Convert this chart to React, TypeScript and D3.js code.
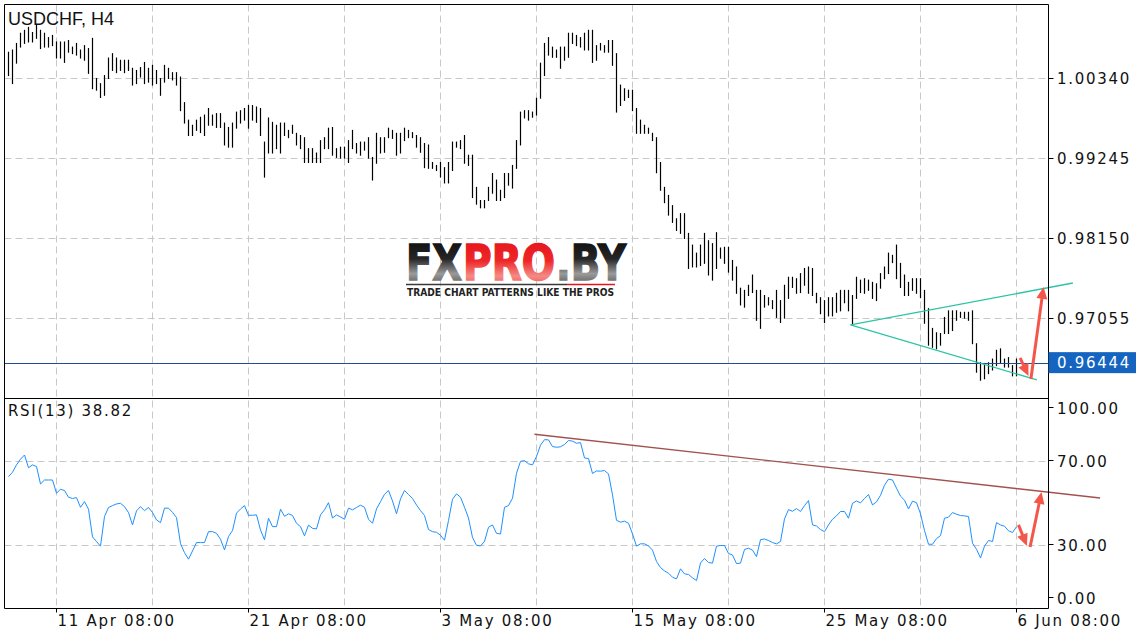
import * as d3 from "d3";

// H4 bars (index 0 = first bar on the left)
const HIGHS = [
  1.0070, 1.0073, 1.0082, 1.0096, 1.0100, 1.0104, 1.0097, 1.0107, 1.0100, 1.0096,
  1.0090, 1.0093, 1.0084, 1.0084, 1.0084, 1.0086, 1.0077, 1.0082, 1.0073, 1.0079,
  1.0075, 1.0089, 1.0034, 1.0027, 1.0038, 1.0062, 1.0068, 1.0062, 1.0059, 1.0059,
  1.0059, 1.0048, 1.0045, 1.0049, 1.0056, 1.0048, 1.0052, 1.0045, 1.0034, 1.0052,
  1.0048, 1.0042, 1.0042, 1.0036, 1.0001, 0.9977, 0.9970, 0.9977, 0.9981, 0.9984,
  0.9993, 0.9984, 0.9986, 0.9986, 0.9973, 0.9967, 0.9973, 0.9988, 0.9990, 0.9993,
  0.9997, 0.9997, 0.9995, 0.9993, 0.9947, 0.9980, 0.9974, 0.9970, 0.9973, 0.9973,
  0.9963, 0.9970, 0.9959, 0.9956, 0.9953, 0.9938, 0.9938, 0.9932, 0.9949, 0.9953,
  0.9966, 0.9967, 0.9938, 0.9940, 0.9940, 0.9949, 0.9963, 0.9945, 0.9947, 0.9947,
  0.9953, 0.9926, 0.9959, 0.9953, 0.9953, 0.9966, 0.9963, 0.9959, 0.9959, 0.9966,
  0.9963, 0.9960, 0.9956, 0.9953, 0.9945, 0.9943, 0.9919, 0.9915, 0.9919, 0.9912,
  0.9919, 0.9947, 0.9947, 0.9949, 0.9956, 0.9929, 0.9929, 0.9885, 0.9867, 0.9867,
  0.9885, 0.9904, 0.9895, 0.9881, 0.9904, 0.9904, 0.9915, 0.9949, 0.9988, 0.9990,
  0.9990, 0.9988, 1.0007, 1.0055, 1.0082, 1.0090, 1.0077, 1.0073, 1.0077, 1.0077,
  1.0096, 1.0096, 1.0093, 1.0090, 1.0096, 1.0100, 1.0100, 1.0079, 1.0082, 1.0079,
  1.0086, 1.0086, 1.0068, 1.0025, 1.0020, 1.0018, 1.0018, 0.9993, 0.9977, 0.9970,
  0.9966, 0.9959, 0.9953, 0.9919, 0.9885, 0.9874, 0.9860, 0.9842, 0.9849, 0.9849,
  0.9822, 0.9806, 0.9795, 0.9806, 0.9822, 0.9812, 0.9808, 0.9823, 0.9802, 0.9803,
  0.9803, 0.9785, 0.9776, 0.9747, 0.9744, 0.9751, 0.9765, 0.9744, 0.9744, 0.9737,
  0.9734, 0.9730, 0.9744, 0.9730, 0.9751, 0.9762, 0.9762, 0.9760, 0.9767, 0.9774,
  0.9776, 0.9774, 0.9740, 0.9734, 0.9730, 0.9734, 0.9734, 0.9740, 0.9744, 0.9744,
  0.9744, 0.9737, 0.9762, 0.9758, 0.9760, 0.9758, 0.9755, 0.9753, 0.9767, 0.9776,
  0.9795, 0.9792, 0.9806, 0.9781, 0.9765, 0.9755, 0.9760, 0.9760, 0.9760, 0.9744,
  0.9719, 0.9692, 0.9686, 0.9685, 0.9707, 0.9716, 0.9716, 0.9716, 0.9714, 0.9714,
  0.9714, 0.9716, 0.9671, 0.9645, 0.9644, 0.9645, 0.9650, 0.9662, 0.9664, 0.9650,
  0.9652, 0.9641, 0.9650,
];

const LOWS = [
  1.0038, 1.0027, 1.0055, 1.0077, 1.0082, 1.0084, 1.0084, 1.0089, 1.0075, 1.0077,
  1.0077, 1.0079, 1.0062, 1.0062, 1.0056, 1.0070, 1.0068, 1.0066, 1.0062, 1.0059,
  1.0041, 1.0020, 1.0018, 1.0008, 1.0011, 1.0034, 1.0045, 1.0042, 1.0045, 1.0042,
  1.0045, 1.0025, 1.0027, 1.0036, 1.0027, 1.0029, 1.0025, 1.0027, 1.0011, 1.0029,
  1.0034, 1.0032, 1.0025, 0.9990, 0.9973, 0.9956, 0.9956, 0.9963, 0.9960, 0.9956,
  0.9970, 0.9970, 0.9967, 0.9967, 0.9943, 0.9940, 0.9940, 0.9966, 0.9973, 0.9977,
  0.9966, 0.9977, 0.9974, 0.9956, 0.9899, 0.9932, 0.9932, 0.9938, 0.9932, 0.9956,
  0.9953, 0.9959, 0.9943, 0.9938, 0.9919, 0.9919, 0.9919, 0.9919, 0.9919, 0.9938,
  0.9938, 0.9929, 0.9926, 0.9925, 0.9925, 0.9919, 0.9938, 0.9932, 0.9929, 0.9936,
  0.9925, 0.9895, 0.9918, 0.9932, 0.9933, 0.9953, 0.9952, 0.9929, 0.9932, 0.9949,
  0.9953, 0.9953, 0.9940, 0.9933, 0.9912, 0.9911, 0.9911, 0.9908, 0.9899, 0.9891,
  0.9891, 0.9908, 0.9940, 0.9938, 0.9918, 0.9915, 0.9871, 0.9862, 0.9857, 0.9857,
  0.9867, 0.9877, 0.9867, 0.9867, 0.9871, 0.9888, 0.9884, 0.9911, 0.9943, 0.9980,
  0.9977, 0.9981, 0.9984, 1.0007, 1.0038, 1.0066, 1.0063, 1.0063, 1.0048, 1.0059,
  1.0063, 1.0082, 1.0079, 1.0077, 1.0073, 1.0073, 1.0056, 1.0059, 1.0073, 1.0070,
  1.0070, 1.0052, 0.9988, 0.9997, 1.0004, 1.0008, 0.9990, 0.9959, 0.9959, 0.9959,
  0.9959, 0.9949, 0.9905, 0.9881, 0.9864, 0.9847, 0.9837, 0.9826, 0.9822, 0.9815,
  0.9774, 0.9776, 0.9776, 0.9778, 0.9781, 0.9765, 0.9758, 0.9774, 0.9788, 0.9781,
  0.9769, 0.9758, 0.9740, 0.9724, 0.9721, 0.9737, 0.9741, 0.9703, 0.9692, 0.9721,
  0.9724, 0.9719, 0.9707, 0.9700, 0.9706, 0.9733, 0.9748, 0.9740, 0.9741, 0.9751,
  0.9740, 0.9737, 0.9727, 0.9712, 0.9700, 0.9709, 0.9709, 0.9714, 0.9716, 0.9727,
  0.9716, 0.9696, 0.9733, 0.9741, 0.9740, 0.9744, 0.9733, 0.9730, 0.9747, 0.9760,
  0.9767, 0.9782, 0.9760, 0.9748, 0.9737, 0.9737, 0.9744, 0.9740, 0.9734, 0.9699,
  0.9669, 0.9666, 0.9664, 0.9669, 0.9685, 0.9685, 0.9689, 0.9703, 0.9707, 0.9706,
  0.9703, 0.9671, 0.9632, 0.9621, 0.9623, 0.9630, 0.9635, 0.9641, 0.9644, 0.9639,
  0.9639, 0.9627, 0.9627,
];

const RSI = [
  62.7, 64.8, 68.3, 71.0, 73.0, 66.9, 68.3, 67.5, 59.2, 61.1,
  61.1, 61.1, 54.8, 56.7, 56.1, 52.9, 52.3, 52.7, 48.1, 50.8,
  47.2, 34.0, 31.8, 29.6, 43.7, 48.0, 48.9, 49.7, 50.0, 48.4,
  45.6, 39.7, 46.4, 48.4, 46.5, 48.0, 45.6, 42.1, 40.8, 47.7,
  47.7, 45.7, 43.2, 30.8, 26.5, 23.4, 27.3, 31.3, 31.3, 31.3,
  36.5, 36.5, 35.7, 32.9, 27.8, 34.2, 37.0, 45.3, 47.3, 48.9,
  44.3, 44.3, 44.5, 37.3, 32.6, 42.9, 38.9, 38.9, 47.2, 43.8,
  45.0, 44.2, 40.5, 38.9, 34.5, 39.6, 38.1, 37.8, 44.5, 46.9,
  50.3, 43.0, 44.5, 43.5, 42.4, 47.7, 46.9, 48.0, 49.1, 48.1,
  42.4, 40.5, 47.3, 50.8, 54.3, 56.1, 51.1, 45.0, 52.1, 56.1,
  54.2, 52.3, 49.2, 46.5, 44.2, 37.5, 36.5, 36.2, 34.8, 32.4,
  41.8, 51.9, 54.5, 52.9, 48.1, 43.0, 33.7, 30.0, 29.7, 31.9,
  38.6, 39.7, 35.7, 35.4, 48.1, 48.9, 52.4, 64.3, 70.0, 70.3,
  68.8, 68.3, 72.3, 77.7, 80.3, 80.2, 77.0, 76.7, 76.9, 78.0,
  79.9, 79.6, 78.6, 78.9, 71.6, 71.3, 64.2, 65.4, 65.3, 65.6,
  64.0, 54.0, 41.9, 41.0, 41.5, 40.5, 35.4, 29.6, 30.7, 30.7,
  29.7, 27.7, 22.3, 19.4, 17.8, 16.7, 14.8, 14.0, 18.8, 16.4,
  16.1, 14.5, 13.2, 21.6, 23.7, 21.8, 21.5, 29.6, 29.9, 29.9,
  26.1, 25.4, 21.3, 21.5, 28.0, 28.6, 27.7, 24.6, 32.7, 33.0,
  32.3, 31.3, 30.7, 31.8, 42.6, 47.0, 46.2, 47.5, 46.1, 48.9,
  51.3, 39.7, 39.2, 37.5, 36.5, 39.7, 42.4, 44.0, 46.1, 46.1,
  42.9, 50.0, 51.1, 50.2, 52.3, 54.2, 49.2, 50.7, 53.8, 58.6,
  61.5, 61.1, 57.2, 53.4, 51.5, 47.3, 51.0, 50.3, 45.0, 37.0,
  30.5, 30.5, 33.2, 34.6, 42.9, 43.4, 45.6, 44.8, 44.2, 44.0,
  43.7, 31.0, 28.1, 24.0, 29.6, 32.3, 31.8, 40.8, 39.7, 39.1,
  36.9, 36.1, 38.82,
];

const PRICE_TICKS = [1.0034, 0.99245, 0.9815, 0.97055];
const RSI_TICKS = [100, 70, 30, 0];
const DATE_LABELS = ["11 Apr 08:00", "21 Apr 08:00", "3 May 08:00", "15 May 08:00", "25 May 08:00", "6 Jun 08:00"];
const DATE_BARS = [12, 60, 108, 156, 204, 252];
const LAST_PRICE = 0.96444;
const LAST_RSI = 38.82;

// drawn objects, in bar index / value units
const TRIANGLE_UP = [{ bar: 210.5, v: 0.9696 }, { bar: 266.1, v: 0.97534 }];
const TRIANGLE_DOWN = [{ bar: 210.5, v: 0.9696 }, { bar: 257.1, v: 0.96207 }];
const RSI_TREND = [{ bar: 131.5, v: 82.9 }, { bar: 272.9, v: 52.5 }];
const PRICE_ARROWS = [
  [{ bar: 252.9, v: 0.96508 }, { bar: 255.0, v: 0.96262 }],
  [{ bar: 255.6, v: 0.9622 }, { bar: 258.75, v: 0.9748 }],
];
const RSI_ARROWS = [
  [{ bar: 252.5, v: 39.7 }, { bar: 254.6, v: 29.7 }],
  [{ bar: 255.4, v: 29.2 }, { bar: 258.25, v: 55.4 }],
];

// watermark pieces: text, gradient
const LOGO_PARTS = [
  { text: "FX", grad: "gDark", x: 406, w: 56 },
  { text: "PRO", grad: "gRed", x: 463, w: 92 },
  { text: ".BY", grad: "gDark", x: 556, w: 70 },
];

const W = 1136, H = 640;
const LEFT = 4.5, RIGHT = 1048.5, TOP = 4.5, SEP = 398.5, BOTTOM = 608.5;
const FONT = "DejaVu Sans";
const ARROW = "#f4574a";

function Arrow({ x1, y1, x2, y2 }: { x1: number; y1: number; x2: number; y2: number }) {
  const len = Math.hypot(x2 - x1, y2 - y1);
  const ux = (x2 - x1) / len, uy = (y2 - y1) / len;
  const hl = 12, hw = 5.5;
  const bx = x2 - ux * hl, by = y2 - uy * hl;
  const pts = [
    [x2, y2],
    [bx - uy * hw, by + ux * hw],
    [bx + uy * hw, by - ux * hw],
  ].map((p) => p.join(",")).join(" ");
  return (
    <g>
      <line x1={x1} y1={y1} x2={bx + ux * 2} y2={by + uy * 2} stroke={ARROW} strokeWidth={3} />
      <polygon points={pts} fill={ARROW} />
    </g>
  );
}

export default function App() {
  const x = d3.scaleLinear().domain([0, 252]).range([8.5, 1016.5]);
  const yP = d3.scaleLinear().domain([0.97055, 1.0034]).range([318, 78]);
  const yR = d3.scaleLinear().domain([0, 100]).range([608.3, 398.3]);

  const rsiLine = d3.line<number>().x((_, i) => x(i)).y((d) => yR(d));
  const gridBars = d3.range(12, 253, 24);
  const crisp = (v: number) => Math.round(v) + 0.5;
  const textStyle = { fontFamily: FONT, fontSize: 15, letterSpacing: 1.7 } as const;
  const rsiLabelY: Record<number, number> = { 100: 408, 70: yR(70), 30: yR(30), 0: 598 };
  const lastY = yP(LAST_PRICE);

  return (
    <svg width={W} height={H} style={{ position: "absolute", left: 0, top: 0, background: "#fff" }}>
      <defs>
        <linearGradient id="gDark" x1="0" y1="0" x2="0" y2="1">
          <stop offset="0" stopColor="#0a0a0a" />
          <stop offset="0.42" stopColor="#262626" />
          <stop offset="0.68" stopColor="#9a9a9a" />
          <stop offset="1" stopColor="#333" />
        </linearGradient>
        <linearGradient id="gRed" x1="0" y1="0" x2="0" y2="1">
          <stop offset="0" stopColor="#e3121b" />
          <stop offset="0.45" stopColor="#ee2626" />
          <stop offset="0.72" stopColor="#f58a86" />
          <stop offset="1" stopColor="#ea3a36" />
        </linearGradient>
      </defs>

      {/* grid */}
      {gridBars.map((b) => (
        <line key={`v${b}`} x1={x(b)} x2={x(b)} y1={TOP} y2={BOTTOM} stroke="#c8c8c8" strokeDasharray="7 4" />
      ))}
      {PRICE_TICKS.map((t) => (
        <line key={`hp${t}`} x1={LEFT} x2={RIGHT} y1={crisp(yP(t))} y2={crisp(yP(t))} stroke="#c8c8c8" strokeDasharray="7 4" />
      ))}
      {[70, 30].map((t) => (
        <line key={`hr${t}`} x1={LEFT} x2={RIGHT} y1={crisp(yR(t))} y2={crisp(yR(t))} stroke="#c8c8c8" strokeDasharray="7 4" />
      ))}

      {/* watermark */}
      <g>
        {LOGO_PARTS.map((p) => (
          <text key={p.text} x={p.x} y={280} fontFamily={FONT} fontWeight="bold" fontSize={49}
            textLength={p.w} lengthAdjust="spacingAndGlyphs"
            fill={`url(#${p.grad})`} stroke={`url(#${p.grad})`} strokeWidth={1.6}>
            {p.text}
          </text>
        ))}
        <line x1={406} x2={567} y1={284.5} y2={284.5} stroke="#3a3a3a" strokeWidth={1.5} />
        <line x1={567} x2={615} y1={284.5} y2={284.5} stroke="#e8141c" strokeWidth={1.5} />
        <text x={407} y={296} fontFamily={FONT} fontWeight="bold" fontSize={10} textLength={207} lengthAdjust="spacingAndGlyphs" fill="#222">
          TRADE CHART PATTERNS LIKE THE PROS
        </text>
      </g>

      {/* price bars */}
      {HIGHS.map((h, i) => (
        <line key={`b${i}`} x1={x(i)} x2={x(i)} y1={yP(h)} y2={yP(LOWS[i]) + 1} stroke="#000" strokeWidth={1.2} />
      ))}

      {/* last price line */}
      <line x1={LEFT} x2={RIGHT} y1={crisp(lastY)} y2={crisp(lastY)} stroke="#1f4f8c" strokeWidth={1} />

      {/* triangle */}
      {[TRIANGLE_UP, TRIANGLE_DOWN].map((seg, k) => (
        <line key={`t${k}`} x1={x(seg[0].bar)} y1={yP(seg[0].v)} x2={x(seg[1].bar)} y2={yP(seg[1].v)} stroke="#2cc4a4" strokeWidth={1.3} />
      ))}
      {PRICE_ARROWS.map((a, k) => (
        <Arrow key={`pa${k}`} x1={x(a[0].bar)} y1={yP(a[0].v)} x2={x(a[1].bar)} y2={yP(a[1].v)} />
      ))}

      {/* RSI */}
      <path d={rsiLine(RSI) ?? ""} fill="none" stroke="#1e90ff" strokeWidth={1} />
      <line x1={x(RSI_TREND[0].bar)} y1={yR(RSI_TREND[0].v)} x2={x(RSI_TREND[1].bar)} y2={yR(RSI_TREND[1].v)} stroke="#a0524f" strokeWidth={1.4} />
      {RSI_ARROWS.map((a, k) => (
        <Arrow key={`ra${k}`} x1={x(a[0].bar)} y1={yR(a[0].v)} x2={x(a[1].bar)} y2={yR(a[1].v)} />
      ))}

      {/* frame */}
      <line x1={LEFT} x2={RIGHT} y1={TOP} y2={TOP} stroke="#000" />
      <line x1={LEFT} x2={RIGHT} y1={SEP} y2={SEP} stroke="#000" />
      <line x1={LEFT} x2={RIGHT} y1={BOTTOM} y2={BOTTOM} stroke="#000" />
      <line x1={LEFT} x2={LEFT} y1={TOP} y2={BOTTOM} stroke="#000" />
      <line x1={RIGHT} x2={RIGHT} y1={TOP} y2={BOTTOM} stroke="#000" />

      {/* titles */}
      <text x={8} y={25} fontFamily="Liberation Sans" fontSize={18} fill="#111">USDCHF, H4</text>
      <text x={8} y={416} {...textStyle} fill="#111">{`RSI(13) ${LAST_RSI.toFixed(2)}`}</text>

      {/* right axis */}
      {PRICE_TICKS.map((t) => (
        <g key={`pt${t}`}>
          <line x1={RIGHT} x2={RIGHT + 5} y1={crisp(yP(t))} y2={crisp(yP(t))} stroke="#000" />
          <text x={1057} y={yP(t) + 5.5} {...textStyle} fill="#111">{d3.format(".5f")(t)}</text>
        </g>
      ))}
      {RSI_TICKS.map((t) => (
        <g key={`rt${t}`}>
          <line x1={RIGHT} x2={RIGHT + 5} y1={crisp(rsiLabelY[t] - 1)} y2={crisp(rsiLabelY[t] - 1)} stroke="#000" />
          <text x={1057} y={rsiLabelY[t] + 5.5} {...textStyle} fill="#111">{d3.format(".2f")(t)}</text>
        </g>
      ))}
      <rect x={RIGHT} y={lastY - 10.5} width={W - RIGHT} height={21} fill="#1565c0" />
      <text x={1057} y={lastY + 5.5} {...textStyle} fill="#fff">{d3.format(".5f")(LAST_PRICE)}</text>

      {/* time axis */}
      {DATE_BARS.map((b, k) => (
        <g key={`d${b}`}>
          <line x1={x(b)} x2={x(b)} y1={BOTTOM} y2={BOTTOM + 4} stroke="#000" />
          <text x={x(b) + 1} y={626} {...textStyle} fill="#111">{DATE_LABELS[k]}</text>
        </g>
      ))}
    </svg>
  );
}
